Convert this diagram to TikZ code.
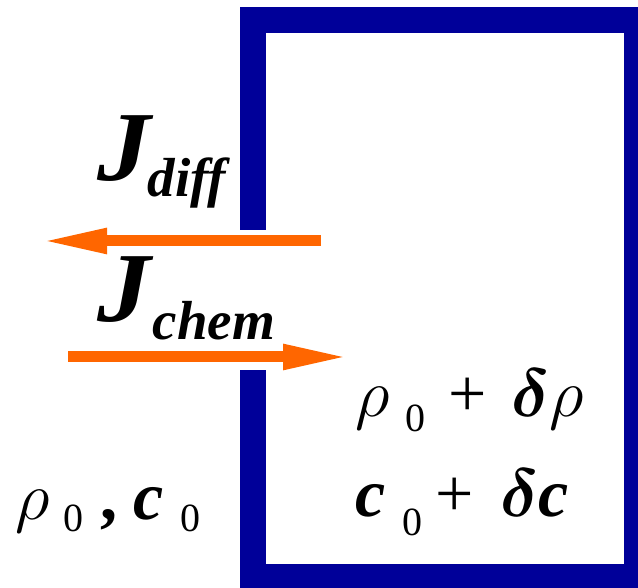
\RequirePackage{fix-cm}
\documentclass[tikz,border=0pt]{standalone}
\usepackage{graphicx}
\usepackage{bm}
\usepackage{fontspec}
\setmainfont{Liberation Serif}
\usetikzlibrary{arrows.meta}
\definecolor{Wall}{HTML}{000099}
\definecolor{Flux}{HTML}{FF6600}
\newcommand{\bigtxt}{\fontsize{68}{72}\selectfont}
\newcommand{\subtxt}{\fontsize{40}{44}\selectfont}
\newcommand{\fluxtxt}{\fontsize{99}{104}\selectfont}
\newcommand{\fluxsub}{\fontsize{55}{60}\selectfont}
\newcommand{\low}[2][15pt]{\raisebox{-#1}{\subtxt #2}}
\newcommand{\putat}[2]{\rlap{\hspace*{#1}#2}}
\newcommand{\fluxJ}{\scalebox{1.08}[1]{\fluxtxt\textbf{\textit{J}}}}

\begin{document}
\begin{tikzpicture}[x=1pt,y=1pt,
  wall/.style={Wall,line width=26pt,line join=miter},
  flux/.style={Flux,line width=11pt,-{Triangle[length=67pt,width=23pt]}},
  lbl/.style={inner sep=0pt,anchor=base west}]
  \useasboundingbox (0,0) rectangle (638,588);
  \clip (0,0) rectangle (638,588);
  % open wall of the box
  \coordinate (gaptop) at (253,358);
  \coordinate (gapbot) at (253,218);
  \draw[wall] (gaptop) -- (253,567.5) -- (637,567.5) -- (637,11) -- (253,11) -- (gapbot);
  % fluxes through the gap
  \coordinate (diffin) at (321,347);
  \coordinate (diffout) at (40,347);
  \coordinate (chemin) at (68,231);
  \coordinate (chemout) at (350,231);
  \draw[flux] (diffin) -- (diffout);
  \draw[flux] (chemin) -- (chemout);
  \node[lbl] (jdiff) at (97,407) {\putat{0pt}{\fluxJ}\putat{50pt}{\raisebox{-16pt}{\fluxsub\textbf{\textit{dif{}f}}}}};
  \node[lbl] (jchem) at (97,266) {\putat{0pt}{\fluxJ}\putat{55pt}{\raisebox{-18pt}{\fluxsub\textbf{\textit{chem}}}}};
  % densities outside and inside
  \node[lbl] (outside) at (15,68) {\bigtxt\putat{0pt}{$\rho$}\putat{48pt}{\low[12pt]{0}}\putat{85pt}{\textbf{,}}\putat{118pt}{\textbf{\textit{c}}}\putat{165pt}{\low[12pt]{0}}};
  \node[lbl] (insiderho) at (355,171) {\bigtxt\putat{0pt}{$\rho$}\putat{50pt}{\low{0}}\putat{93pt}{+}\putat{156pt}{$\bm{\delta}\rho$}};
  \node[lbl] (insidec) at (355,71) {\bigtxt\putat{0pt}{\textbf{\textit{c}}}\putat{47pt}{\low[19pt]{0}}\putat{80pt}{+}\putat{145pt}{$\bm{\delta}$\textbf{\textit{c}}}};
\end{tikzpicture}
\end{document}
